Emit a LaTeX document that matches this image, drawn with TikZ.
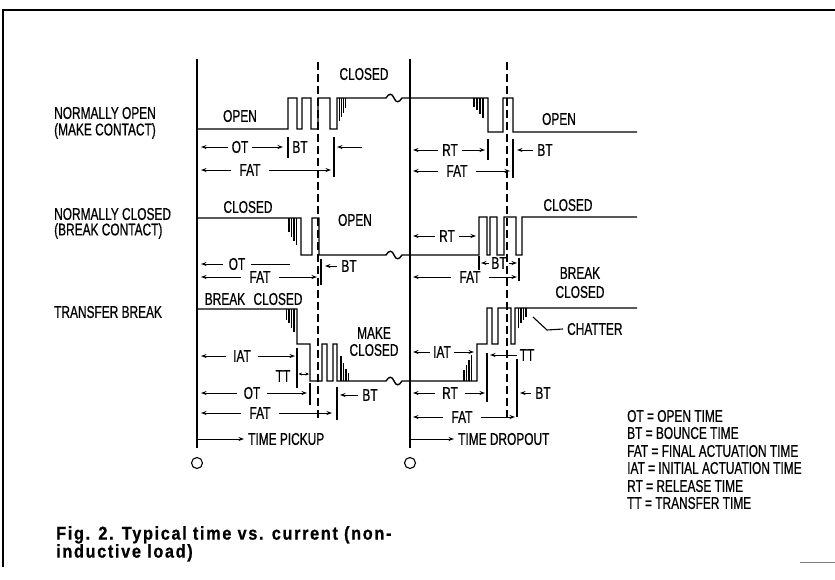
\documentclass[tikz,border=0pt]{standalone}
\usepackage{fontspec}
\setmainfont{Liberation Sans}[FakeStretch=0.70,FakeBold=0.6]
\newfontfamily\capfont{Liberation Sans}[FakeStretch=0.88,LetterSpace=9,FakeBold=0.8]
\usetikzlibrary{arrows.meta}
\newcommand\lbfont{\fontsize{17}{18}\selectfont}
\begin{document}
\begin{tikzpicture}[x=1pt,y=-1pt,
  sig/.style={line width=1.4pt, line join=miter},
  dimA/.style={line width=1pt,-{Stealth[length=5.5pt,width=4pt]}},
  dimB/.style={line width=0.9pt,{Stealth[length=3.5pt,width=3pt]}-{Stealth[length=3.5pt,width=3pt]}},
  dimN/.style={line width=1pt},
  tk/.style={line width=1.1pt},
  vline/.style={line width=1.4pt},
  dsh/.style={line width=1.2pt, dash pattern=on 8pt off 4pt},
  lb/.style={font=\lbfont, inner xsep=4pt, inner ysep=1pt},
  ll/.style={font=\lbfont, inner sep=0pt, anchor=west}]
\useasboundingbox (0,0) rectangle (835,579);
\fill[white] (0,0) rectangle (835,579);

% frame
\draw[line width=1.7pt] (3,567) -- (3,10) -- (835,10);
\draw[line width=0.8pt, gray] (800,562) -- (835,562);

% time lines
\draw[vline] (197,59) -- (197,448);
\draw[vline] (410,59) -- (410,448);
\draw[dsh] (318,62) -- (318,420);
\draw[dsh] (507,62) -- (507,420);
\node[circle, draw, line width=1.1pt, minimum size=11pt, inner sep=0pt] (cP) at (197,463) {};
\node[circle, draw, line width=1.1pt, minimum size=11pt, inner sep=0pt] (cD) at (410,463) {};
\node[lb, anchor=west] (tp) at (244,439) {TIME PICKUP};
\node[lb, anchor=west] (td) at (454,439) {TIME DROPOUT};
\coordinate (tpS) at (197,439);
\coordinate (tdS) at (410,439);
\draw[dimA] (tpS) -- (tp);
\draw[dimA] (tdS) -- (td);

% left labels
\node[ll] (no1) at (54,113) {NORMALLY OPEN};
\node[ll] (no2) at (54,131) {(MAKE CONTACT)};
\node[ll] (nc1) at (54,214) {NORMALLY CLOSED};
\node[ll] (nc2) at (54,231) {(BREAK CONTACT)};
\node[ll] (tb1) at (54,312) {TRANSFER BREAK};

% ================= NORMALLY OPEN =================
\draw[sig] (197,129) -- (288,129) -- (288,98) -- (297,98) -- (297,129) -- (302,129) -- (302,98)
  -- (311,98) -- (311,129) -- (318,129) -- (318,98) -- (330,98) -- (330,129) -- (337,129) -- (337,98)
  -- (386,98) .. controls (389,93) and (392,93) .. (394,98) .. controls (396,103) and (399,103) .. (402,98)
  -- (488,98) -- (488,132) -- (503,132) -- (503,98) -- (513,98) -- (513,132) -- (637,132);
\foreach \x/\e in {339.5/121, 341.5/117, 343.5/113, 345.5/108} \draw[tk] (\x,98) -- (\x,\e);
\foreach \x/\e in {474/107, 477/110, 480/114, 483/118} \draw[tk] (\x,98) -- (\x,\e);
\node[lb] (noOpenL) at (240,116) {OPEN};
\node[lb] (noClosed) at (364,74) {CLOSED};
\node[lb] (noOpenR) at (559,119) {OPEN};
% pickup dims
\node[lb] (noOT) at (240,147) {OT};
\draw[dimA] (noOT) -- (201,147);
\draw[dimA] (noOT) -- (283,147);
\draw[tk] (288,137) -- (288,158);
\node[lb] (noBT) at (300,147) {BT};
\draw[tk] (334,137) -- (334,177);
\coordinate (noBTr) at (362,147);
\draw[dimA] (noBTr) -- (337,147);
\node[lb, inner xsep=8pt] (noFAT) at (250,170) {FAT};
\draw[dimA] (noFAT) -- (201,170);
\draw[dimA] (noFAT) -- (331,170);
% dropout dims
\node[lb] (noRT) at (450,150) {RT};
\draw[dimA] (noRT) -- (413,150);
\draw[dimA] (noRT) -- (485,150);
\draw[tk] (488,139) -- (488,160);
\draw[tk] (513,139) -- (513,178);
\node[lb] (noBT2) at (545,150) {BT};
\draw[dimA] (noBT2) -- (517,150);
\node[lb, inner xsep=8pt] (noFAT2) at (457,171) {FAT};
\draw[dimA] (noFAT2) -- (413,171);
\draw[dimA] (noFAT2) -- (510,171);

% ================= NORMALLY CLOSED =================
\draw[sig] (197,218) -- (301,218) -- (301,255) -- (312,255) -- (312,218) -- (319,218) -- (319,255)
  -- (386,255) .. controls (389,250) and (392,250) .. (394,255) .. controls (396,260) and (399,260) .. (402,255)
  -- (479,255) -- (479,217) -- (487,217) -- (487,255) -- (490,255) -- (490,217) -- (497,217) -- (497,255)
  -- (504,255) -- (504,217) -- (516,217) -- (516,255) -- (522,255) -- (522,217) -- (637,217);
\foreach \x/\e in {289/232, 291.5/237, 294/241, 296.5/245} \draw[tk] (\x,218) -- (\x,\e);
\node[lb] (ncClosedL) at (248,207) {CLOSED};
\node[lb] (ncOpen) at (355,220) {OPEN};
\node[lb] (ncClosedR) at (568,205) {CLOSED};
% pickup dims
\node[lb, inner xsep=6pt] (ncOT) at (237,264) {OT};
\draw[dimA] (ncOT) -- (201,264);
\draw[dimN] (ncOT) -- (290,264);
\draw[tk] (321,259) -- (321,285);
\node[lb] (ncBT) at (349,266) {BT};
\draw[dimA] (ncBT) -- (325,266);
\node[lb, inner xsep=8pt] (ncFAT) at (260,277) {FAT};
\draw[dimA] (ncFAT) -- (201,277);
\draw[dimA] (ncFAT) -- (317,277);
% dropout dims
\node[lb] (ncRT) at (447,236) {RT};
\draw[dimA] (ncRT) -- (413,236);
\draw[dimA] (ncRT) -- (476,236);
\draw[tk] (479,256) -- (479,270);
\draw[tk] (519,258) -- (519,281);
\node[lb, inner xsep=2pt] (ncBT2) at (499,263) {BT};
\draw[dimA] (ncBT2) -- (481,263);
\draw[dimA] (ncBT2) -- (517,263);
\node[lb, inner xsep=8pt] (ncFAT2) at (470,277) {FAT};
\draw[dimA] (ncFAT2) -- (413,277);
\draw[dimA] (ncFAT2) -- (517,277);

% ================= TRANSFER BREAK =================
\draw[sig] (197,309) -- (297,309) -- (297,344) -- (310,344) -- (310,381) -- (322,381) -- (322,344)
  -- (327,344) -- (327,381) -- (333,381) -- (333,344) -- (337,344) -- (337,381)
  -- (386,381) .. controls (389,376) and (392,376) .. (394,381) .. controls (396,386) and (399,386) .. (402,381)
  -- (477,381) -- (477,344) -- (487,344) -- (487,308) -- (492,308) -- (492,344) -- (498,344) -- (498,308)
  -- (511,308) -- (511,344) -- (515,344) -- (515,308) -- (637,308);
\foreach \x/\e in {286.5/320, 289/323, 291.5/328, 294/332} \draw[tk] (\x,309) -- (\x,\e);
\foreach \x/\e in {341/356, 343.5/363, 346/369, 348.5/373} \draw[tk] (\x,381) -- (\x,\e);
\foreach \x/\e in {464/370, 466.5/365, 469/360, 471.5/355} \draw[tk] (\x,381) -- (\x,\e);
\foreach \x/\e in {518.5/328, 521/323, 523.5/320, 526/317} \draw[tk] (\x,308) -- (\x,\e);
\node[lb] (tbBreakL) at (225,299) {BREAK};
\node[lb] (tbClosedL) at (278,299) {CLOSED};
\node[lb] (tbMake) at (374,333) {MAKE};
\node[lb] (tbClosedM) at (374,350) {CLOSED};
\node[lb] (tbBreakR) at (580,273) {BREAK};
\node[lb] (tbClosedR) at (580,292) {CLOSED};
\node[lb, anchor=west] (chat) at (563,329) {CHATTER};
\coordinate (chatTip) at (533,317);
\draw[tk] (chat.west) -- (547,330) -- (chatTip);
% pickup dims
\node[lb, inner xsep=7pt] (tbIAT) at (242,356) {IAT};
\draw[dimA] (tbIAT) -- (201,356);
\draw[dimA] (tbIAT) -- (295,356);
\draw[tk] (297,348) -- (297,388);
\node[lb, inner xsep=1pt] (tbTT) at (283,376) {TT};
\coordinate (tbTTa) at (298.5,374);
\coordinate (tbTTb) at (309,374);
\draw[dimB] (tbTTa) -- (tbTTb);
\draw[tk] (310,383) -- (310,405);
\node[lb, inner xsep=7pt] (tbOT) at (252,393) {OT};
\draw[dimA] (tbOT) -- (201,393);
\draw[dimA] (tbOT) -- (307,393);
\draw[tk] (337,387) -- (337,420);
\node[lb] (tbBT) at (370,395) {BT};
\draw[dimA] (tbBT) -- (340,395);
\node[lb, inner xsep=8pt] (tbFAT) at (260,413) {FAT};
\draw[dimA] (tbFAT) -- (201,413);
\draw[dimA] (tbFAT) -- (332,413);
% dropout dims
\node[lb, inner xsep=3pt] (tbIAT2) at (442,352) {IAT};
\draw[dimA] (tbIAT2) -- (413,352);
\draw[dimA] (tbIAT2) -- (474,352);
\draw[tk] (487,353) -- (487,402);
\node[lb, inner xsep=3pt] (tbTT2) at (527,355) {TT};
\draw[dimA] (tbTT2) -- (490,355);
\draw[tk] (517,359) -- (517,417);
\node[lb, inner xsep=7pt] (tbRT2) at (450,393) {RT};
\draw[dimA] (tbRT2) -- (413,393);
\draw[dimA] (tbRT2) -- (485,393);
\node[lb] (tbBT2) at (543,393) {BT};
\draw[dimA] (tbBT2) -- (520,393);
\node[lb, inner xsep=8pt] (tbFAT2) at (462,417) {FAT};
\draw[dimA] (tbFAT2) -- (413,417);
\draw[dimA] (tbFAT2) -- (515,417);

% legend
\node[ll] (lg1) at (627,416) {OT = OPEN TIME};
\node[ll] (lg2) at (627,433) {BT = BOUNCE TIME};
\node[ll] (lg3) at (627,451) {FAT = FINAL ACTUATION TIME};
\node[ll] (lg4) at (627,468) {IAT = INITIAL ACTUATION TIME};
\node[ll] (lg5) at (627,486) {RT = RELEASE TIME};
\node[ll] (lg6) at (627,503) {TT = TRANSFER TIME};

% caption
\node[anchor=north west, inner sep=0pt, align=left, font=\capfont\bfseries\fontsize{18.5}{18}\selectfont] (cap) at (56,526)
  {Fig. 2. Typical time vs. current (non-\\inductive load)};
\end{tikzpicture}
\end{document}
